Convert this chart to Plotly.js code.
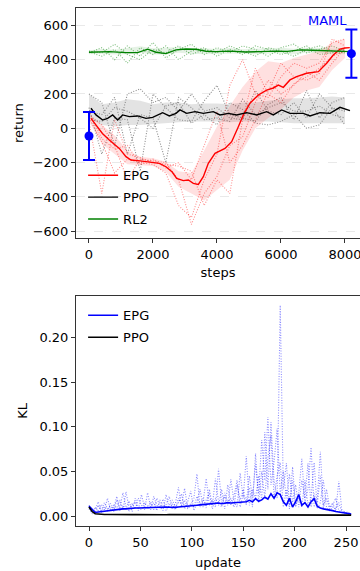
<!DOCTYPE html>
<html>
<head>
<meta charset="utf-8">
<script src="https://cdn.plot.ly/plotly-3.0.1.min.js"></script>
<style>html,body{margin:0;padding:0;background:#fff;}#chart{width:360px;height:571px;}</style>
</head>
<body>
<div id="chart"></div>
<script>
// ---------- Top panel: return vs steps ----------
const runSteps = [0,400,800,1200,1600,2000,2400,2800,3200,3600,4000,4400,4800,5200,5600,6000,6400,6800,7200,7600,8000];

const epgMeanSteps = [60,220,420,634,800,947,1156,1312,1600,1885,2198,2406,2600,2740,2948,3104,3260,3417,3573,3729,3938,4250,4459,4667,4823,5031,5292,5552,5760,5917,6073,6281,6490,6802,7167,7427,7635,7844,8000,8150];
const epgMean = [58,19,-30,-68,-95,-117,-165,-185,-190,-195,-204,-224,-255,-292,-305,-301,-321,-327,-282,-204,-146,-117,-78,9,78,146,194,223,235,252,239,282,301,321,330,379,427,461,468,470];
const epgLower = [40,-90,-150,-210,-215,-220,-255,-340,-380,-420,-360,-300,-130,0,60,110,180,220,240,340,410];
const epgUpper = [80,20,-40,-130,-165,-175,-195,-250,-260,-130,10,130,240,330,390,380,410,430,450,500,520];
const epgRun1 = [60,-80,-260,-180,-200,-210,-260,-450,-520,-300,-150,250,400,200,180,300,380,350,380,500,520];
const epgRun2 = [80,20,-100,-300,-180,-190,-200,-300,-560,-380,-280,-100,-50,150,280,200,250,330,280,380,470];
const epgRun3 = [40,-380,50,-150,-170,-200,-210,-220,-250,-450,-300,-380,50,350,200,150,260,300,350,420,450];
const epgRun4 = [100,-60,-120,-100,-210,-180,-230,-200,-300,-100,100,-200,-100,50,220,380,300,280,320,520,480];

const ppoMeanSteps = [62,219,427,583,740,896,1052,1260,1521,1781,1990,2302,2510,2719,2844,3052,3313,3573,3885,4094,4354,4615,4927,5240,5552,5760,6021,6281,6698,6906,7219,7531,7844,8156];
const ppoMean = [117,78,48,58,78,48,78,68,72,58,64,91,72,87,107,87,97,87,97,78,87,78,91,78,97,78,107,87,87,72,91,87,122,103];
const ppoLower = [60,20,10,20,20,25,30,35,40,40,40,35,40,40,40,35,30,30,30,30,30];
const ppoUpper = [200,140,150,170,160,140,150,150,140,145,145,140,150,150,160,170,175,175,180,185,180];
const ppoRun1 = [200,150,-100,200,230,150,180,100,200,100,120,60,50,220,100,80,150,60,200,120,100];
const ppoRun2 = [120,-150,60,50,-250,200,120,50,40,160,250,80,60,40,140,180,50,220,60,150,180];
const ppoRun3 = [100,80,180,-150,80,60,-200,180,120,50,60,40,170,80,120,150,100,100,130,80,60];
const ppoRun4 = [50,40,120,100,60,0,130,150,30,80,20,150,110,30,20,40,80,0,20,120,20];

const rl2MeanSteps = [0,634,1156,1521,1833,2094,2406,2719,3031,3344,3656,3969,4400,4900,5344,5800,6200,6600,7000,7531,8000,8156];
const rl2Mean = [443,447,441,441,461,443,435,457,462,461,449,447,450,445,447,450,448,457,455,452,450,447];
const rl2Lower = [432,434,430,432,440,430,430,440,435,432,436,434,436,432,434,438,432,440,436,434,432];
const rl2Upper = [455,462,458,466,478,466,470,474,462,466,462,468,460,462,466,470,464,470,468,464,462];
const rl2Run1 = [440,470,400,480,420,500,410,460,490,430,470,440,480,460,420,470,490,440,460,480,450];
const rl2Run2 = [445,420,460,380,470,430,480,400,450,470,420,460,430,480,460,430,450,480,430,440,460];
const rl2Run3 = [450,440,490,430,400,460,440,480,430,460,440,480,450,420,470,450,420,460,480,450,440];

const mamlSteps = [0, 8200];
const mamlReturn = [-45, 435];
const mamlErr = [140, 140];

// ---------- Bottom panel: KL vs update ----------
const updates = [];
for (let u = 0; u <= 255; u += 3) updates.push(u);
const klEpgMean = [0.011,0.007,0.004,0.0045,0.005,0.0055,0.006,0.006,0.0065,0.007,
 0.0075,0.008,0.008,0.0085,0.0085,0.009,0.009,0.0092,0.0094,0.0095,
 0.0095,0.0096,0.0094,0.0096,0.0098,0.01,0.0098,0.0095,0.0097,0.01,
 0.0102,0.0105,0.011,0.0112,0.0115,0.012,0.0125,0.0128,0.013,0.0135,
 0.0132,0.014,0.0145,0.0138,0.0142,0.015,0.0145,0.0148,0.0152,0.0155,
 0.015,0.016,0.0175,0.016,0.0195,0.0165,0.018,0.021,0.019,0.025,
 0.02,0.026,0.024,0.016,0.012,0.02,0.01,0.016,0.024,0.012,
 0.015,0.01,0.016,0.0195,0.011,0.009,0.008,0.0075,0.007,0.006,
 0.005,0.0045,0.0035,0.003,0.0025,0.0022];
const klPpoMean = [0.010,0.005,0.0025,0.002,0.0018,0.0016,0.0016,0.0015,0.0016,0.0015,
 0.0015,0.0016,0.0015,0.0014,0.0015,0.0016,0.0015,0.0015,0.0014,0.0015,
 0.0015,0.0014,0.0015,0.0016,0.0015,0.0014,0.0015,0.0015,0.0016,0.0015,
 0.0014,0.0015,0.0015,0.0016,0.0015,0.0014,0.0015,0.0015,0.0014,0.0015,
 0.0016,0.0015,0.0014,0.0015,0.0015,0.0016,0.0015,0.0014,0.0015,0.0015,
 0.0016,0.0015,0.0014,0.0015,0.0016,0.0015,0.0015,0.0014,0.0015,0.0016,
 0.0015,0.0014,0.0015,0.0015,0.0016,0.0015,0.0014,0.0015,0.0015,0.0014,
 0.0015,0.0016,0.0015,0.0014,0.0015,0.0015,0.0014,0.0015,0.0014,0.0013,
 0.0013,0.0012,0.0012,0.0011,0.0011,0.001];
const klRunA = [0.012,0.006,0.004,0.012,0.006,0.015,0.008,0.011,0.005,0.018,
 0.009,0.026,0.01,0.006,0.014,0.008,0.02,0.012,0.007,0.026,
 0.01,0.015,0.006,0.018,0.009,0.013,0.022,0.008,0.014,0.032,
 0.01,0.018,0.008,0.012,0.02,0.047,0.01,0.016,0.042,0.012,
 0.018,0.01,0.053,0.014,0.022,0.012,0.041,0.016,0.01,0.048,
 0.02,0.067,0.012,0.03,0.02,0.045,0.018,0.094,0.03,0.105,
 0.04,0.02,0.236,0.03,0.059,0.012,0.04,0.01,0.025,0.064,
 0.015,0.03,0.077,0.01,0.018,0.072,0.012,0.02,0.008,0.015,
 0.005,0.039,0.006,0.004,0.003,0.002];
const klRunB = [0.008,0.003,0.01,0.005,0.013,0.007,0.02,0.006,0.012,0.009,
 0.018,0.007,0.027,0.009,0.012,0.016,0.006,0.024,0.01,0.008,
 0.016,0.007,0.02,0.011,0.006,0.024,0.009,0.014,0.007,0.02,
 0.012,0.031,0.009,0.014,0.01,0.022,0.012,0.02,0.009,0.03,
 0.012,0.042,0.016,0.01,0.026,0.015,0.02,0.01,0.035,0.018,
 0.03,0.015,0.045,0.02,0.058,0.025,0.085,0.04,0.111,0.035,
 0.06,0.098,0.025,0.05,0.02,0.047,0.015,0.035,0.01,0.04,
 0.02,0.059,0.01,0.025,0.012,0.045,0.008,0.03,0.01,0.012,
 0.02,0.006,0.004,0.005,0.002,0.002];
const klRunC = [0.01,0.005,0.007,0.016,0.004,0.01,0.006,0.014,0.008,0.022,
 0.006,0.012,0.008,0.017,0.005,0.02,0.01,0.007,0.015,0.011,
 0.007,0.022,0.012,0.008,0.019,0.006,0.012,0.018,0.01,0.015,
 0.025,0.008,0.016,0.028,0.006,0.015,0.03,0.01,0.018,0.025,
 0.008,0.02,0.012,0.03,0.008,0.035,0.012,0.022,0.04,0.01,
 0.025,0.012,0.032,0.01,0.07,0.015,0.05,0.02,0.065,0.09,
 0.02,0.045,0.06,0.01,0.03,0.008,0.055,0.012,0.02,0.01,
 0.04,0.012,0.02,0.06,0.008,0.015,0.04,0.01,0.006,0.01,
 0.008,0.015,0.004,0.003,0.005,0.001];

const RED = '#ff0000', BLK = '#000000', GRN = '#008000', BLU = '#0000ff';
const FONT = 'DejaVu Sans, sans-serif';
const DOT = '1px,1.6px';

function run(x, y, color, xa, ya) {
  return {x: x, y: y, xaxis: xa, yaxis: ya, mode: 'lines', showlegend: false, hoverinfo: 'skip',
          line: {color: color, width: 1.1, dash: DOT}};
}
function band(x, lo, hi, color, xa, ya) {
  const xs = x.concat(x.slice().reverse());
  const ys = hi.concat(lo.slice().reverse());
  return {x: xs, y: ys, xaxis: xa, yaxis: ya, mode: 'lines', fill: 'toself', fillcolor: color,
          line: {width: 0}, showlegend: false, hoverinfo: 'skip'};
}

const traces = [
  run(runSteps, rl2Run1, 'rgba(0,128,0,0.5)', 'x', 'y'),
  run(runSteps, rl2Run2, 'rgba(0,128,0,0.5)', 'x', 'y'),
  run(runSteps, rl2Run3, 'rgba(0,128,0,0.5)', 'x', 'y'),
  run(runSteps, ppoRun1, 'rgba(0,0,0,0.45)', 'x', 'y'),
  run(runSteps, ppoRun2, 'rgba(0,0,0,0.45)', 'x', 'y'),
  run(runSteps, ppoRun3, 'rgba(0,0,0,0.45)', 'x', 'y'),
  run(runSteps, ppoRun4, 'rgba(0,0,0,0.45)', 'x', 'y'),
  run(runSteps, epgRun1, 'rgba(255,0,0,0.45)', 'x', 'y'),
  run(runSteps, epgRun2, 'rgba(255,0,0,0.45)', 'x', 'y'),
  run(runSteps, epgRun3, 'rgba(255,0,0,0.45)', 'x', 'y'),
  run(runSteps, epgRun4, 'rgba(255,0,0,0.45)', 'x', 'y'),
  band(runSteps, rl2Lower, rl2Upper, 'rgba(0,128,0,0.1)', 'x', 'y'),
  band(runSteps, ppoLower, ppoUpper, 'rgba(128,128,128,0.22)', 'x', 'y'),
  band(runSteps, epgLower, epgUpper, 'rgba(255,0,0,0.12)', 'x', 'y'),
  {x: epgMeanSteps, y: epgMean, xaxis: 'x', yaxis: 'y', mode: 'lines', name: 'EPG', line: {color: RED, width: 1.4}, legend: 'legend', legendgroup: 'a1'},
  {x: ppoMeanSteps, y: ppoMean, xaxis: 'x', yaxis: 'y', mode: 'lines', name: 'PPO', line: {color: BLK, width: 1.4}, legend: 'legend', legendgroup: 'a2'},
  {x: rl2MeanSteps, y: rl2Mean, xaxis: 'x', yaxis: 'y', mode: 'lines', name: 'RL2', line: {color: GRN, width: 1.4}, legend: 'legend', legendgroup: 'a3'},
  {x: mamlSteps, y: mamlReturn, xaxis: 'x', yaxis: 'y', mode: 'markers', showlegend: false,
   marker: {color: BLU, size: 9}, error_y: {type: 'data', array: mamlErr, visible: true, color: BLU, thickness: 2, width: 6}},
  // bottom
  run(updates, klRunA, 'rgba(0,0,255,0.45)', 'x2', 'y2'),
  run(updates, klRunB, 'rgba(0,0,255,0.45)', 'x2', 'y2'),
  run(updates, klRunC, 'rgba(0,0,255,0.45)', 'x2', 'y2'),
  {x: updates, y: klEpgMean, xaxis: 'x2', yaxis: 'y2', mode: 'lines', name: 'EPG', line: {color: BLU, width: 1.6}, legend: 'legend2', legendgroup: 'b1'},
  {x: updates, y: klPpoMean, xaxis: 'x2', yaxis: 'y2', mode: 'lines', name: 'PPO', line: {color: BLK, width: 1.6}, legend: 'legend2', legendgroup: 'b2'}
];

const axisCommon = {
  showline: true, mirror: true, linecolor: '#333', linewidth: 1,
  ticks: 'outside', ticklen: 4, tickcolor: '#333', tickwidth: 1,
  zeroline: false, tickfont: {family: FONT, size: 13, color: '#000'},
  ticklabeloverflow: 'allow'
};

const layout = {
  width: 360, height: 571,
  margin: {l: 76, r: 0, t: 8, b: 45.3},
  paper_bgcolor: '#fff', plot_bgcolor: '#fff',
  font: {family: FONT, size: 13, color: '#000'},
  xaxis: Object.assign({}, axisCommon, {anchor: 'y', domain: [0, 1], range: [-406, 8469], tickvals: [0,2000,4000,6000,8000], showgrid: false,
    title: {text: 'steps', font: {family: FONT, size: 13}, standoff: 7}}),
  yaxis: Object.assign({}, axisCommon, {anchor: 'x', domain: [0.5557, 1], range: [-640, 701], tickvals: [-600,-400,-200,0,200,400,600],
    showgrid: true, gridcolor: '#e3e3e3', griddash: 'dash', gridwidth: 0.8,
    title: {text: 'return', font: {family: FONT, size: 13}, standoff: 6}}),
  xaxis2: Object.assign({}, axisCommon, {anchor: 'y2', domain: [0, 1], range: [-12.65, 263.6], tickvals: [0,50,100,150,200,250], showgrid: false,
    title: {text: 'update', font: {family: FONT, size: 13}, standoff: 9}}),
  yaxis2: Object.assign({}, axisCommon, {anchor: 'x2', domain: [0, 0.4443], range: [-0.0112, 0.2466], tickvals: [0,0.05,0.1,0.15,0.2], tickformat: '.2f',
    showgrid: false, title: {text: 'KL', font: {family: FONT, size: 13}, standoff: 8}}),
  legend: {x: 0.025, y: 0.706, xanchor: 'left', yanchor: 'top', bgcolor: 'rgba(0,0,0,0)', borderwidth: 0,
    tracegroupgap: 2, font: {family: FONT, size: 13, color: '#000'}},
  legend2: {x: 0.025, y: 0.4356, xanchor: 'left', yanchor: 'top', bgcolor: 'rgba(0,0,0,0)', borderwidth: 0,
    tracegroupgap: 2, font: {family: FONT, size: 13, color: '#000'}},
  annotations: [{x: 7453, y: 627, xref: 'x', yref: 'y', text: 'MAML', showarrow: false,
    font: {family: FONT, size: 13, color: BLU}}],
  showlegend: true
};

Plotly.newPlot('chart', traces, layout, {staticPlot: true, displayModeBar: false});
</script>
</body>
</html>
